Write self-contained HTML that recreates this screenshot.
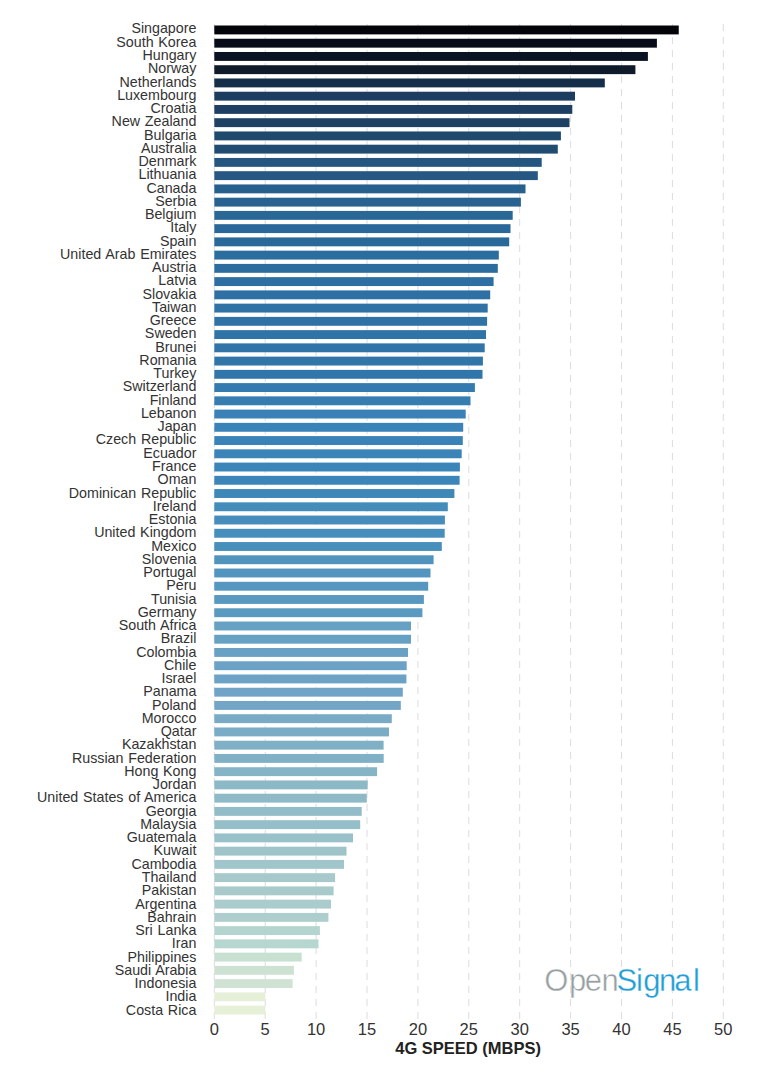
<!DOCTYPE html>
<html><head><meta charset="utf-8"><style>
html,body{margin:0;padding:0;background:#fff;}
body{width:768px;height:1072px;overflow:hidden;}
svg{display:block;}
.lab text{font-family:"Liberation Sans",Arial,sans-serif;font-size:14.1px;fill:#333;text-anchor:end;word-spacing:0.8px;}
.tick text{font-family:"Liberation Sans",Arial,sans-serif;font-size:16.5px;fill:#333;text-anchor:middle;}
.grid line{stroke:#dcdcdc;stroke-width:1;stroke-dasharray:7 6;}
</style></head><body>
<svg width="768" height="1072" viewBox="0 0 768 1072">
<rect width="768" height="1072" fill="#fff"/>
<g class="grid"><line x1="214.30" y1="24" x2="214.30" y2="1019" /><line x1="265.20" y1="24" x2="265.20" y2="1019" /><line x1="316.10" y1="24" x2="316.10" y2="1019" /><line x1="367.00" y1="24" x2="367.00" y2="1019" /><line x1="417.90" y1="24" x2="417.90" y2="1019" /><line x1="468.80" y1="24" x2="468.80" y2="1019" /><line x1="519.70" y1="24" x2="519.70" y2="1019" /><line x1="570.60" y1="24" x2="570.60" y2="1019" /><line x1="621.50" y1="24" x2="621.50" y2="1019" /><line x1="672.40" y1="24" x2="672.40" y2="1019" /><line x1="723.30" y1="24" x2="723.30" y2="1019" /></g>
<g class="bars"><rect x="214.3" y="25.50" width="464.45" height="8.9" fill="#03040a"/><rect x="214.3" y="38.74" width="442.60" height="8.9" fill="#070c18"/><rect x="214.3" y="51.99" width="433.60" height="8.9" fill="#0a1323"/><rect x="214.3" y="65.23" width="421.10" height="8.9" fill="#0f1a2a"/><rect x="214.3" y="78.48" width="390.50" height="8.9" fill="#152e49"/><rect x="214.3" y="91.72" width="360.70" height="8.9" fill="#1d3d60"/><rect x="214.3" y="104.97" width="358.00" height="8.9" fill="#1e3f61"/><rect x="214.3" y="118.21" width="355.20" height="8.9" fill="#1e4164"/><rect x="214.3" y="131.46" width="346.60" height="8.9" fill="#1f4a6d"/><rect x="214.3" y="144.70" width="343.50" height="8.9" fill="#204c71"/><rect x="214.3" y="157.95" width="327.40" height="8.9" fill="#255680"/><rect x="214.3" y="171.19" width="323.50" height="8.9" fill="#265883"/><rect x="214.3" y="184.44" width="311.20" height="8.9" fill="#275f8d"/><rect x="214.3" y="197.69" width="306.60" height="8.9" fill="#286290"/><rect x="214.3" y="210.93" width="298.40" height="8.9" fill="#296796"/><rect x="214.3" y="224.17" width="296.20" height="8.9" fill="#296898"/><rect x="214.3" y="237.42" width="294.90" height="8.9" fill="#296999"/><rect x="214.3" y="250.66" width="284.50" height="8.9" fill="#2c6d9f"/><rect x="214.3" y="263.91" width="283.50" height="8.9" fill="#2c6da0"/><rect x="214.3" y="277.15" width="279.30" height="8.9" fill="#2d6fa2"/><rect x="214.3" y="290.40" width="275.90" height="8.9" fill="#2e70a4"/><rect x="214.3" y="303.64" width="273.40" height="8.9" fill="#2f72a6"/><rect x="214.3" y="316.89" width="272.80" height="8.9" fill="#2f72a6"/><rect x="214.3" y="330.13" width="271.70" height="8.9" fill="#3073a7"/><rect x="214.3" y="343.38" width="270.40" height="8.9" fill="#3074a8"/><rect x="214.3" y="356.62" width="268.60" height="8.9" fill="#3175a9"/><rect x="214.3" y="369.87" width="268.20" height="8.9" fill="#3176aa"/><rect x="214.3" y="383.11" width="260.60" height="8.9" fill="#347baf"/><rect x="214.3" y="396.36" width="256.20" height="8.9" fill="#367eb2"/><rect x="214.3" y="409.60" width="251.40" height="8.9" fill="#3981b6"/><rect x="214.3" y="422.85" width="248.90" height="8.9" fill="#3a83b8"/><rect x="214.3" y="436.09" width="248.50" height="8.9" fill="#3a83b8"/><rect x="214.3" y="449.34" width="247.40" height="8.9" fill="#3a84b8"/><rect x="214.3" y="462.58" width="245.60" height="8.9" fill="#3b85b8"/><rect x="214.3" y="475.83" width="245.30" height="8.9" fill="#3c85b8"/><rect x="214.3" y="489.07" width="240.10" height="8.9" fill="#3e88b8"/><rect x="214.3" y="502.32" width="233.50" height="8.9" fill="#448cba"/><rect x="214.3" y="515.57" width="230.60" height="8.9" fill="#468dbb"/><rect x="214.3" y="528.81" width="230.40" height="8.9" fill="#468ebb"/><rect x="214.3" y="542.05" width="227.50" height="8.9" fill="#498fbc"/><rect x="214.3" y="555.30" width="219.30" height="8.9" fill="#5094be"/><rect x="214.3" y="568.54" width="216.20" height="8.9" fill="#5395bf"/><rect x="214.3" y="581.79" width="213.90" height="8.9" fill="#5597bf"/><rect x="214.3" y="595.03" width="209.60" height="8.9" fill="#5999c0"/><rect x="214.3" y="608.28" width="208.10" height="8.9" fill="#5b9ac0"/><rect x="214.3" y="621.52" width="196.70" height="8.9" fill="#66a0c3"/><rect x="214.3" y="634.77" width="196.70" height="8.9" fill="#66a0c3"/><rect x="214.3" y="648.01" width="193.70" height="8.9" fill="#69a1c4"/><rect x="214.3" y="661.26" width="192.40" height="8.9" fill="#6ba2c5"/><rect x="214.3" y="674.50" width="192.10" height="8.9" fill="#6ba2c5"/><rect x="214.3" y="687.75" width="188.50" height="8.9" fill="#70a4c6"/><rect x="214.3" y="701.00" width="186.50" height="8.9" fill="#72a5c6"/><rect x="214.3" y="714.24" width="177.50" height="8.9" fill="#79abc6"/><rect x="214.3" y="727.49" width="174.70" height="8.9" fill="#7bacc6"/><rect x="214.3" y="740.73" width="169.30" height="8.9" fill="#80b0c6"/><rect x="214.3" y="753.97" width="169.40" height="8.9" fill="#80b0c6"/><rect x="214.3" y="767.22" width="162.80" height="8.9" fill="#85b4c7"/><rect x="214.3" y="780.46" width="153.40" height="8.9" fill="#8db9c7"/><rect x="214.3" y="793.71" width="152.50" height="8.9" fill="#8ebac7"/><rect x="214.3" y="806.95" width="147.40" height="8.9" fill="#92bdc8"/><rect x="214.3" y="820.20" width="145.90" height="8.9" fill="#94bec8"/><rect x="214.3" y="833.44" width="138.70" height="8.9" fill="#99c1c9"/><rect x="214.3" y="846.69" width="132.20" height="8.9" fill="#9ec4ca"/><rect x="214.3" y="859.93" width="129.70" height="8.9" fill="#a0c5ca"/><rect x="214.3" y="873.18" width="120.80" height="8.9" fill="#a7c9cb"/><rect x="214.3" y="886.42" width="119.30" height="8.9" fill="#a8cacb"/><rect x="214.3" y="899.67" width="116.70" height="8.9" fill="#aacccc"/><rect x="214.3" y="912.91" width="114.10" height="8.9" fill="#adcecd"/><rect x="214.3" y="926.16" width="105.60" height="8.9" fill="#b4d5cf"/><rect x="214.3" y="939.40" width="104.20" height="8.9" fill="#b6d6d0"/><rect x="214.3" y="952.65" width="87.40" height="8.9" fill="#c8e0d2"/><rect x="214.3" y="965.89" width="79.60" height="8.9" fill="#cee2d4"/><rect x="214.3" y="979.14" width="78.30" height="8.9" fill="#cfe2d4"/><rect x="214.3" y="992.38" width="51.10" height="8.9" fill="#e6f0d8"/><rect x="214.3" y="1005.63" width="51.10" height="8.9" fill="#e6f0d8"/></g>
<g class="lab" transform="translate(196.3,0) scale(1.012,1) translate(-196.3,0)"><text x="196.4" y="33.50">Singapore</text><text x="196.4" y="46.76">South Korea</text><text x="196.4" y="60.02">Hungary</text><text x="196.4" y="73.27">Norway</text><text x="196.4" y="86.53">Netherlands</text><text x="196.4" y="99.79">Luxembourg</text><text x="196.4" y="113.05">Croatia</text><text x="196.4" y="126.31">New Zealand</text><text x="196.4" y="139.56">Bulgaria</text><text x="196.4" y="152.82">Australia</text><text x="196.4" y="166.08">Denmark</text><text x="196.4" y="179.34">Lithuania</text><text x="196.4" y="192.60">Canada</text><text x="196.4" y="205.85">Serbia</text><text x="196.4" y="219.11">Belgium</text><text x="196.4" y="232.37">Italy</text><text x="196.4" y="245.63">Spain</text><text x="196.4" y="258.89">United Arab Emirates</text><text x="196.4" y="272.14">Austria</text><text x="196.4" y="285.40">Latvia</text><text x="196.4" y="298.66">Slovakia</text><text x="196.4" y="311.92">Taiwan</text><text x="196.4" y="325.18">Greece</text><text x="196.4" y="338.43">Sweden</text><text x="196.4" y="351.69">Brunei</text><text x="196.4" y="364.95">Romania</text><text x="196.4" y="378.21">Turkey</text><text x="196.4" y="391.47">Switzerland</text><text x="196.4" y="404.72">Finland</text><text x="196.4" y="417.98">Lebanon</text><text x="196.4" y="431.24">Japan</text><text x="196.4" y="444.50">Czech Republic</text><text x="196.4" y="457.76">Ecuador</text><text x="196.4" y="471.01">France</text><text x="196.4" y="484.27">Oman</text><text x="196.4" y="497.53">Dominican Republic</text><text x="196.4" y="510.79">Ireland</text><text x="196.4" y="524.05">Estonia</text><text x="196.4" y="537.30">United Kingdom</text><text x="196.4" y="550.56">Mexico</text><text x="196.4" y="563.82">Slovenia</text><text x="196.4" y="577.08">Portugal</text><text x="196.4" y="590.34">Peru</text><text x="196.4" y="603.59">Tunisia</text><text x="196.4" y="616.85">Germany</text><text x="196.4" y="630.11">South Africa</text><text x="196.4" y="643.37">Brazil</text><text x="196.4" y="656.63">Colombia</text><text x="196.4" y="669.88">Chile</text><text x="196.4" y="683.14">Israel</text><text x="196.4" y="696.40">Panama</text><text x="196.4" y="709.66">Poland</text><text x="196.4" y="722.92">Morocco</text><text x="196.4" y="736.17">Qatar</text><text x="196.4" y="749.43">Kazakhstan</text><text x="196.4" y="762.69">Russian Federation</text><text x="196.4" y="775.95">Hong Kong</text><text x="196.4" y="789.21">Jordan</text><text x="196.4" y="802.46">United States of America</text><text x="196.4" y="815.72">Georgia</text><text x="196.4" y="828.98">Malaysia</text><text x="196.4" y="842.24">Guatemala</text><text x="196.4" y="855.50">Kuwait</text><text x="196.4" y="868.75">Cambodia</text><text x="196.4" y="882.01">Thailand</text><text x="196.4" y="895.27">Pakistan</text><text x="196.4" y="908.53">Argentina</text><text x="196.4" y="921.79">Bahrain</text><text x="196.4" y="935.04">Sri Lanka</text><text x="196.4" y="948.30">Iran</text><text x="196.4" y="961.56">Philippines</text><text x="196.4" y="974.82">Saudi Arabia</text><text x="196.4" y="988.08">Indonesia</text><text x="196.4" y="1001.33">India</text><text x="196.4" y="1014.59">Costa Rica</text></g>
<g class="tick"><text x="214.30" y="1034.7">0</text><text x="265.20" y="1034.7">5</text><text x="316.10" y="1034.7">10</text><text x="367.00" y="1034.7">15</text><text x="417.90" y="1034.7">20</text><text x="468.80" y="1034.7">25</text><text x="519.70" y="1034.7">30</text><text x="570.60" y="1034.7">35</text><text x="621.50" y="1034.7">40</text><text x="672.40" y="1034.7">45</text><text x="723.30" y="1034.7">50</text></g>
<text x="468.1" y="1053.5" text-anchor="middle" style="font-family:'Liberation Sans',Arial,sans-serif;font-weight:bold;font-size:16.5px;fill:#222">4G SPEED (MBPS)</text>
<text y="991.3" style="font-family:'Liberation Sans',sans-serif;font-size:31px;"><tspan x="544.3 568.9 584.8 601.4" fill="#979fa3" stroke="#fff" stroke-width="0.45">Open</tspan><tspan x="616.6 636.0 643.2 659.0 674.3 693.0" fill="#239ed6" stroke="#fff" stroke-width="0.3">Signal</tspan></text>
</svg>
</body></html>
